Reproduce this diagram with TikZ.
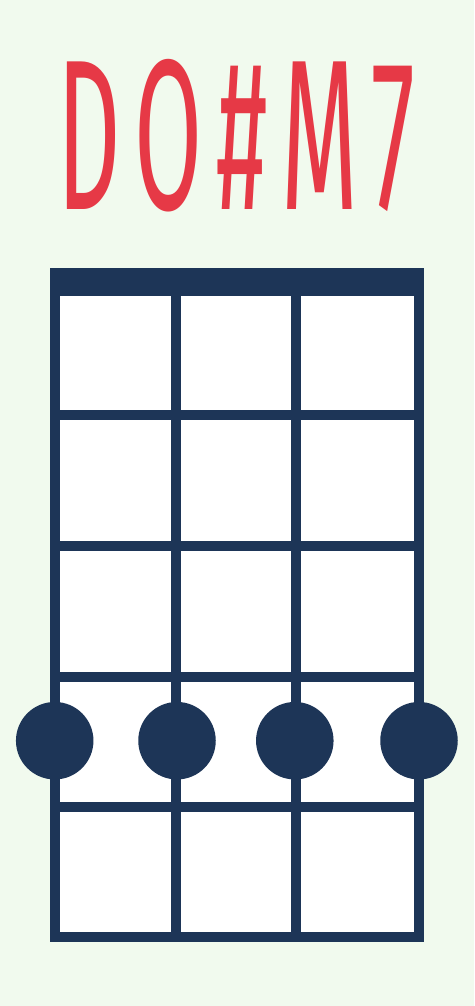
\documentclass[tikz,border=0pt]{standalone}
\usepackage{fontspec}
\setmainfont{Fira Sans}
\definecolor{bg}{HTML}{F1FAEE}
\definecolor{navy}{HTML}{1D3557}
\definecolor{chordred}{HTML}{E63946}
\newcommand{\gapk}{\kern0.14em}
\begin{document}
\begin{tikzpicture}[x=1pt,y=-1pt,
  gridline/.style={navy,line width=10pt},
  fingerdot/.style={circle,fill=navy,minimum size=77.5pt,inner sep=0pt}]
\fill[bg] (0,0) rectangle (474,1006);
\useasboundingbox (0,0) rectangle (474,1006);
% title
\node[anchor=south west,inner sep=0pt,text=chordred] (title) at (57,212)
  {\resizebox{358pt}{150pt}{D\gapk O\gapk\#\gapk M\gapk 7}};
% board
\fill[white] (55,273) rectangle (419,937);
\fill[navy] (50,268) rectangle (424,296);
\draw[gridline] (55,280) -- (55,937) -- (419,937) -- (419,280);
\foreach \x in {176.3,295.7} \draw[gridline] (\x,290) -- (\x,937);
\foreach \y in {414.7,545.7,676.7,806.9} \draw[gridline] (55,\y) -- (419,\y);
% finger dots
\node[fingerdot] (d1) at (54.7,740.7) {};
\node[fingerdot] (d2) at (177,740.7) {};
\node[fingerdot] (d3) at (294.8,740.7) {};
\node[fingerdot] (d4) at (419,740.7) {};
\end{tikzpicture}
\end{document}
